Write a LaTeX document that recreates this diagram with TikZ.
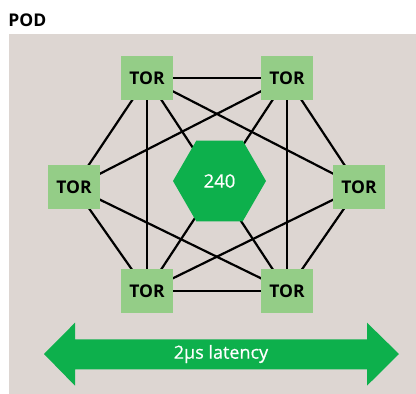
\documentclass[tikz,border=0pt]{standalone}
\usepackage{fontspec}
\setmainfont{Open Sans}
\newfontfamily\labelfont[FakeBold=0.6]{Open Sans}
\usetikzlibrary{shapes.geometric,backgrounds}
\definecolor{podbg}{HTML}{DDD6D2}
\definecolor{torgreen}{HTML}{94CD87}
\definecolor{coregreen}{HTML}{0DB04C}
\tikzset{
  tor/.style={fill=torgreen, minimum width=52pt, minimum height=44pt, inner sep=0pt,
    font=\fontsize{17.5}{17.5}\selectfont\bfseries},
  core/.style={regular polygon, regular polygon sides=6, minimum size=93pt, inner sep=0pt,
    fill=coregreen, text=white, font=\labelfont\fontsize{18.5}{18.5}\selectfont},
  link/.style={line width=2.2pt, black}
}
\begin{document}
\begin{tikzpicture}[x=1pt, y=-1pt]
  \useasboundingbox (0,0) rectangle (416,394);
  \node[anchor=base west, font=\fontsize{17.5}{17.5}\selectfont\bfseries, inner sep=0pt] (title) at (8.3,26) {POD};

  % switches
  \node[tor] (tl) at (147,78) {TOR};
  \node[tor] (tr) at (287,78) {TOR};
  \node[tor] (l)  at (74,187) {TOR};
  \node[tor] (r)  at (359,187) {TOR};
  \node[tor] (bl) at (147,291) {TOR};
  \node[tor] (br) at (287,291) {TOR};

  % central block
  \node[core] (hub) at (219.5,181) {240};

  % latency arrow
  \fill[coregreen] (44,354) -- (75,322.7) -- (75,339.3) -- (367,339.3) -- (367,322.7)
    -- (399,354) -- (367,385.7) -- (367,369.3) -- (75,369.3) -- (75,385.7) -- cycle;
  \node[text=white, font=\labelfont\fontsize{18}{18}\selectfont, inner sep=0pt] (lat) at (221,354) {2μs latency};

  \begin{scope}[on background layer]
    \fill[podbg] (9,34) rectangle (416,394);
    \foreach \a/\b in {tl/tr, tl/l, tl/bl, tl/br, tl/r, tr/l, tr/br, tr/bl, tr/r,
                       l/bl, l/br, r/bl, r/br, bl/br}
      \draw[link] (\a.center) -- (\b.center);
  \end{scope}
\end{tikzpicture}
\end{document}
